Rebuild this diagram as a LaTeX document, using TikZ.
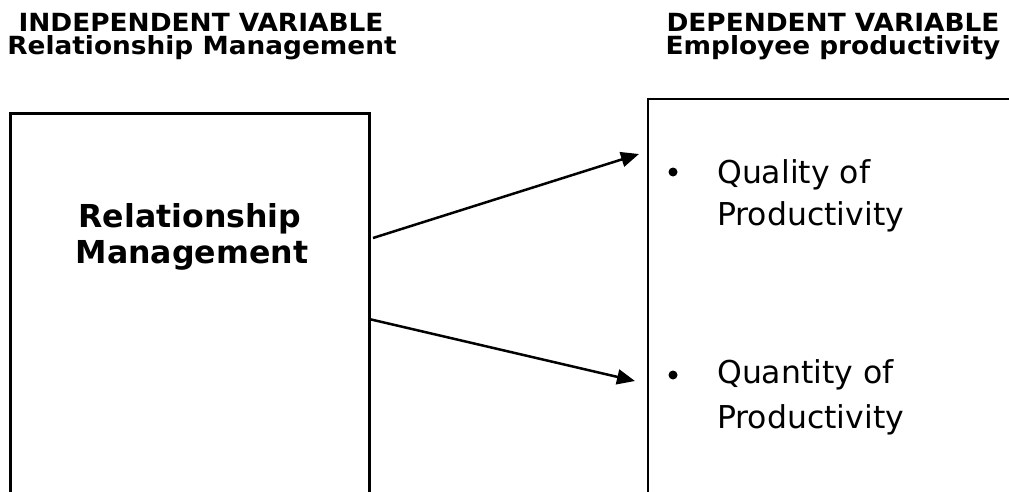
\documentclass[tikz,border=0pt]{standalone}
\usepackage{fontspec}
\setmainfont{DejaVu Sans}
\newfontfamily\hdrfont[FakeStretch=1.055]{DejaVu Sans}
\usetikzlibrary{arrows.meta}
\tikzset{
  box/.style={draw, line width=2.6pt, inner sep=0pt, anchor=north west},
  hdr/.style={anchor=base, inner sep=0pt, font=\hdrfont\fontsize{25}{25}\selectfont\bfseries},
  mid/.style={anchor=base, inner sep=0pt, font=\fontsize{31.6}{32}\selectfont\bfseries},
  item/.style={anchor=base west, inner sep=0pt, font=\fontsize{31.5}{32}\selectfont},
  dot/.style={circle, fill, inner sep=0pt, minimum size=9pt},
  arr/.style={line width=2.5pt, -{Triangle[length=18pt,width=15pt]}}
}
\begin{document}
\begin{tikzpicture}[x=1pt,y=-1pt]
\useasboundingbox (0,0) rectangle (1009,492);
\clip (0,0) rectangle (1009,492);
% headers
\node[hdr] (h1a) at (201,32) {INDEPENDENT VARIABLE};
\node[hdr] (h1b) at (202,55) {Relationship Management};
\node[hdr] (h2a) at (833,32) {DEPENDENT VARIABLE};
\node[hdr] (h2b) at (833,55) {Employee productivity};
% boxes
\node[box, minimum width=359pt, minimum height=380pt] (iv) at (9,112) {};
\node[box, line width=2.2pt, minimum width=420pt, minimum height=440pt] (dv) at (647,98) {};
% left text
\node[mid] (m1) at (190,227) {Relationship};
\node[mid] (m2) at (192,263) {Management};
% right text
\node[dot] (b1) at (673,172) {};
\node[item] (q1) at (717,183) {Quality of};
\node[item] (q2) at (717,225) {Productivity};
\node[dot] (b2) at (673,375) {};
\node[item] (r1) at (717,383) {Quantity of};
\node[item] (r2) at (717,428) {Productivity};
% arrows
\coordinate (s1) at (373,238);
\coordinate (e1) at (639,154);
\coordinate (s2) at (369,319);
\coordinate (e2) at (635,381);
\draw[arr] (s1) -- (e1);
\draw[arr] (s2) -- (e2);
\end{tikzpicture}
\end{document}
